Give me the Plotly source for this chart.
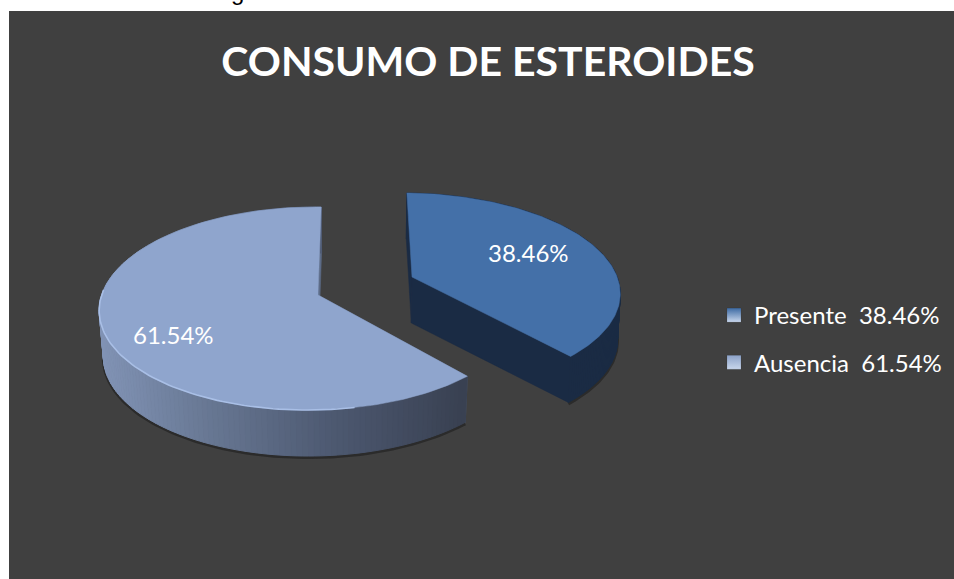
import math
import plotly.graph_objects as go

# ---- data ----
categories = ["Presente", "Ausencia"]
values = [38.46, 61.54]
title_text = "CONSUMO DE ESTEROIDES"

# ---- style ----
FONT = "Lato"
PANEL = "#404040"
TOP_COL = {"Presente": "#4470a8", "Ausencia": "#8fa5cd"}
WALL_COL = {"Presente": "#1a2b44", "Ausencia": "#5d6c88"}
LEG_COL = {"Presente": "#3d6aa3", "Ausencia": "#8ca2c8"}
SIDE_STOPS = [(100, (130, 148, 182)), (200, (106, 122, 150)), (330, (78, 90, 114)), (465, (57, 65, 82))]

# perspective model of the tilted disc (screen pixels are the axis units)
APEX = {"Presente": (412, 277), "Ausencia": (318, 295)}
VPX = {"Presente": 372.0, "Ausencia": 345.0}
K = {"Presente": 0.1464, "Ausencia": 0.133}
H = {"Presente": 96.3, "Ausencia": 99.7}
R = {"Presente": 211.5, "Ausencia": 210.0}
SHRINK = {"Presente": 0.99, "Ausencia": 0.983}
M, DEPTH, LOWER_VP = 0.026, 46.0, 345.0


def project(name, a, b):
    s = 1.0 / (1.0 + K[name] * b + M * a)
    x0, y0 = APEX[name]
    return VPX[name] + (x0 - VPX[name] + R[name] * a) * s, y0 - H[name] * b * s


def lower(name, p):
    return LOWER_VP + (p[0] - LOWER_VP) * SHRINK[name], p[1] + DEPTH


def side_color(x):
    if x <= SIDE_STOPS[0][0]:
        c = SIDE_STOPS[0][1]
    elif x >= SIDE_STOPS[-1][0]:
        c = SIDE_STOPS[-1][1]
    else:
        for (x1, c1), (x2, c2) in zip(SIDE_STOPS, SIDE_STOPS[1:]):
            if x1 <= x <= x2:
                t = (x - x1) / (x2 - x1)
                c = tuple(c1[i] + (c2[i] - c1[i]) * t for i in range(3))
                break
    return "rgb(%d,%d,%d)" % tuple(c)


total = sum(values)
sweep = {n: v / total * 2 * math.pi for n, v in zip(categories, values)}
# Presente runs clockwise from 12 o'clock, Ausencia counter-clockwise from it
direction = {"Presente": 1, "Ausencia": -1}


def arc(name, n=160):
    pts = []
    for i in range(n + 1):
        t = direction[name] * sweep[name] * i / n
        pts.append(project(name, math.sin(t), math.cos(t)))
    return pts


fig = go.Figure()


def poly(pts, color, width=1.0):
    fig.add_trace(go.Scatter(
        x=[p[0] for p in pts] + [pts[0][0]], y=[p[1] for p in pts] + [pts[0][1]],
        mode="lines", fill="toself", fillcolor=color,
        line=dict(color=color, width=width), hoverinfo="skip", showlegend=False))


def stroke(pts, color, width):
    fig.add_trace(go.Scatter(
        x=[p[0] for p in pts], y=[p[1] for p in pts], mode="lines",
        line=dict(color=color, width=width), hoverinfo="skip", showlegend=False))


for name in categories:
    rim = arc(name)
    apex = project(name, 0, 0)
    low = [lower(name, p) for p in rim]
    # soft shadow under the body
    stroke([(p[0], p[1] + 1.5) for p in low if p[1] > low[0][1] + 60], "rgba(25,25,25,0.55)", 3)
    # cut walls
    poly([apex, rim[0], lower(name, rim[0]), lower(name, apex)], WALL_COL[name], 0.5)
    poly([apex, rim[-1], lower(name, rim[-1]), lower(name, apex)], WALL_COL[name], 0.5)
    # outer wall
    for p, q in zip(rim, rim[1:]):
        col = WALL_COL[name] if name == "Presente" else side_color((p[0] + q[0]) / 2)
        poly([p, q, lower(name, q), lower(name, p)], col)
    # top face
    poly([apex] + rim, TOP_COL[name], 0.5)

# light rim on the front of the pale slice
aus_rim = [p for p in arc("Ausencia") if p[1] > 290 and p[0] < 360]
stroke(aus_rim, "#a9bfe6", 1.6)

# data labels placed on the disc
label_uv = {"Presente": (0.59, 0.273), "Ausencia": (-0.636, -0.37)}
for name, v in zip(categories, values):
    lx, ly = project(name, *label_uv[name])
    fig.add_annotation(x=lx, y=ly, text=f"{v:.2f}%", showarrow=False,
                       font=dict(family=FONT, size=24, color="#ffffff"))

# legend entries
for name, v in zip(categories, values):
    fig.add_trace(go.Scatter(
        x=[-100], y=[-100], mode="markers", name=f"{name}  {v:.2f}%", legendgroup=name,
        marker=dict(symbol="square", size=14, color=LEG_COL[name],
                    gradient=dict(type="vertical", color="#c8d6ec"),
                    line=dict(color="rgba(0,0,0,0.2)", width=0.5)),
        hoverinfo="skip"))

# fragment of the surrounding document text cut off by the crop
fig.add_annotation(xref="paper", yref="paper", x=(229 - 9) / 945, y=1 + (11 - 7) / 568,
                   xanchor="left", yanchor="bottom", text="g", showarrow=False,
                   font=dict(family="Liberation Sans", size=24, color="#000000"))

fig.update_layout(
    width=954, height=579, autosize=False,
    margin=dict(l=9, r=0, t=11, b=0),
    paper_bgcolor="#ffffff", plot_bgcolor=PANEL,
    xaxis=dict(range=[9, 954], visible=False, fixedrange=True),
    yaxis=dict(range=[579, 11], visible=False, fixedrange=True),
    title=dict(text=f"<b>{title_text}</b>", x=488 / 954, xanchor="center", y=1 - 62 / 579, yanchor="middle",
               font=dict(family=FONT, size=41, color="#ffffff")),
    legend=dict(x=(714 - 9) / 945, xanchor="left", y=1 - (293 - 11) / 568, yanchor="top",
                bgcolor="rgba(0,0,0,0)", tracegroupgap=13,
                font=dict(family=FONT, size=24, color="#ffffff")),
    font=dict(family=FONT),
)

fig.write_html("out.html", post_script="document.body.style.margin='0';",
               config={"displayModeBar": False})
